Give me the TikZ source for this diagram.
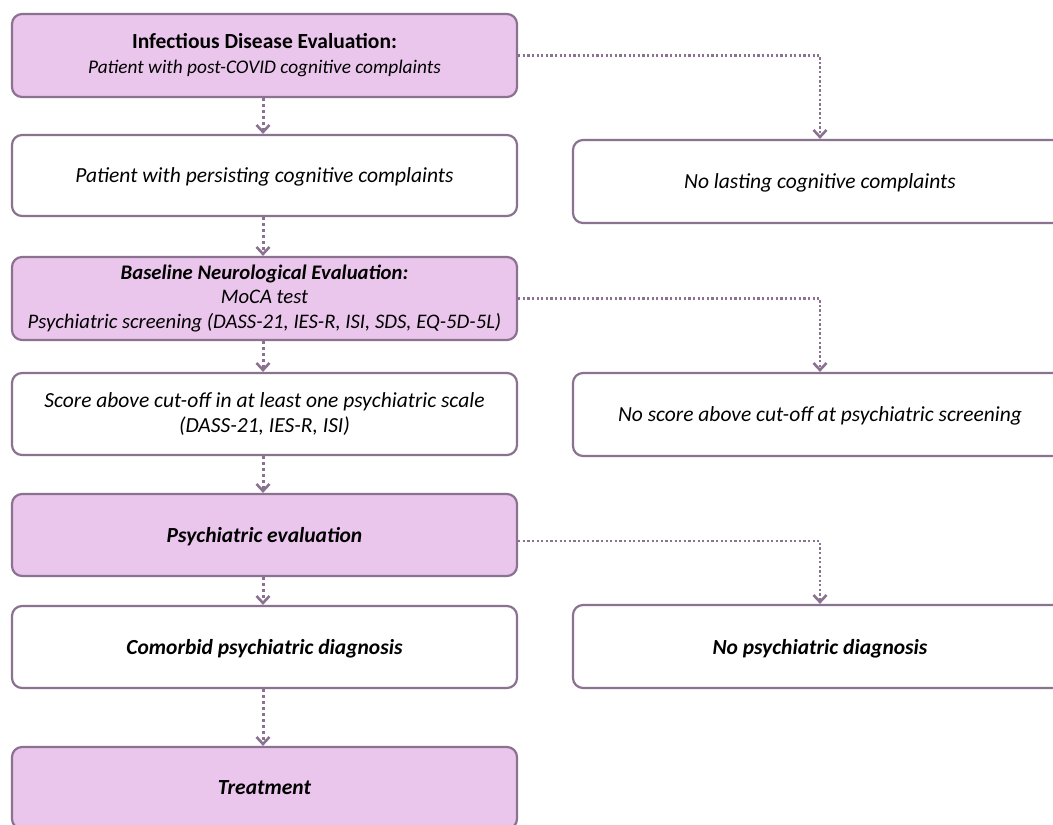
\documentclass[tikz,border=0pt]{standalone}
\usepackage{fontspec}
\setmainfont{Carlito}
\usetikzlibrary{arrows.meta}
\definecolor{boxfill}{HTML}{EBC6EC}
\definecolor{boxline}{HTML}{8B7291}
\tikzset{
  box/.style={draw=boxline, line width=2.2pt, rounded corners=10pt, minimum width=505pt, minimum height=82pt, align=center, inner sep=0pt, font=\fontsize{21.5}{25}\selectfont},
  pbox/.style={box, fill=boxfill},
  wbox/.style={box, fill=white},
  rbox/.style={box, fill=white, minimum width=494pt},
  oneline/.style={text depth=0pt},
  conn/.style={draw=boxline, line width=3pt, dash pattern=on 3pt off 3pt, -{Straight Barb[length=7pt, width=13pt, line width=2.6pt]}},
  hconn/.style={conn, line width=2.3pt, dash pattern=on 2.3pt off 2.3pt}
}
\begin{document}
\begin{tikzpicture}[x=1pt, y=-1pt]
\useasboundingbox (0,0) rectangle (1053,825);
\clip (0,0) rectangle (1053,825);
\node[pbox, minimum height=83pt] (b1) at (264.5,55.5) {\textbf{Infectious Disease Evaluation:}\\ {\fontsize{19.3}{25}\selectfont\textit{Patient with post-COVID cognitive complaints}}};
\node[wbox, oneline, minimum height=81pt] (b2) at (264.5,175.5) {\textit{Patient with persisting cognitive complaints}};
\node[pbox, minimum height=83pt, font=\fontsize{20.7}{24.5}\selectfont] (b3) at (264.5,298.5) {\textbf{\textit{Baseline Neurological Evaluation:}}\\ \textit{MoCA test}\\ \textit{Psychiatric screening (DASS-21, IES-R, ISI, SDS, EQ-5D-5L)}};
\node[wbox] (b4) at (264.5,414) {\textit{Score above cut-off in at least one psychiatric scale}\\ \textit{(DASS-21, IES-R, ISI)}};
\node[pbox, oneline] (b5) at (264.5,535) {\textbf{\textit{Psychiatric evaluation}}};
\node[wbox, oneline] (b6) at (264.5,647) {\textbf{\textit{Comorbid psychiatric diagnosis}}};
\node[pbox, oneline] (b7) at (264.5,788) {\textbf{\textit{Treatment}}};
\node[rbox, oneline, minimum height=83pt] (r1) at (820,181.5) {\textit{No lasting cognitive complaints}};
\node[rbox, oneline, minimum height=83pt] (r2) at (820,414.5) {\textit{No score above cut-off at psychiatric screening}};
\node[rbox, oneline, minimum height=83pt] (r3) at (820,646.5) {\textbf{\textit{No psychiatric diagnosis}}};
\draw[conn] ([xshift=-1.5pt]b1.south) -- ([xshift=-1.5pt]b2.north);
\draw[conn] ([xshift=-1.5pt]b2.south) -- ([xshift=-1.5pt]b3.north);
\draw[conn] ([xshift=-1.5pt]b3.south) -- ([xshift=-1.5pt]b4.north);
\draw[conn] ([xshift=-1.5pt]b4.south) -- ([xshift=-1.5pt]b5.north);
\draw[conn] ([xshift=-1.5pt]b5.south) -- ([xshift=-1.5pt]b6.north);
\draw[conn] ([xshift=-1.5pt]b6.south) -- ([xshift=-1.5pt]b7.north);
\draw[hconn] (b1.east) -| (r1.north);
\draw[hconn] (b3.east) -| (r2.north);
\draw[hconn] ([yshift=-6pt]b5.east) -| (r3.north);
\end{tikzpicture}
\end{document}
